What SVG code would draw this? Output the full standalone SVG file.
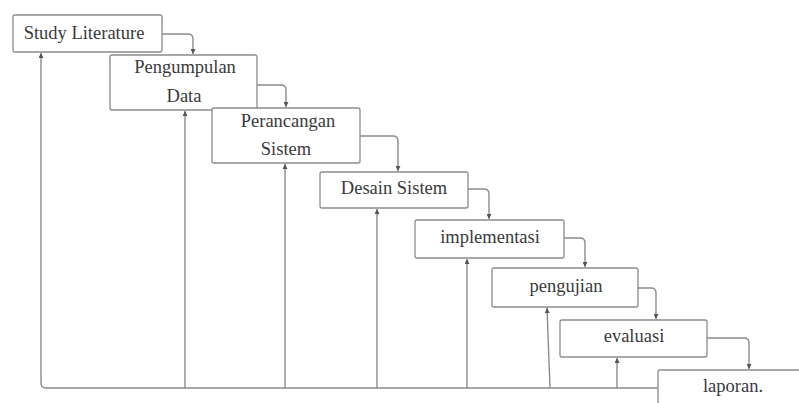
<svg xmlns="http://www.w3.org/2000/svg" width="799" height="403" viewBox="0 0 799 403">
<defs>
<marker id="ah" viewBox="0 0 10 10" refX="10" refY="5" markerWidth="5" markerHeight="5" orient="auto-start-reverse" markerUnits="userSpaceOnUse">
<path d="M0,0 L10,5 L0,10 Z" fill="#555"/>
</marker>
<style>
.box{fill:#fff;stroke:#8c8c8c;stroke-width:1.3}
.lbl{font-size:18.5px;fill:#3a3a3a;text-anchor:middle}
.c{fill:none;stroke:#8c8c8c;stroke-width:1.4}
</style>
</defs>
<rect width="799" height="403" fill="#fff"/>
<g id="connectors">
<path class="c" d="M162,34 H188 Q193,34 193,39 V54" marker-end="url(#ah)"/>
<path class="c" d="M257,85 H281 Q286,85 286,90 V107" marker-end="url(#ah)"/>
<path class="c" d="M360,136 H393 Q398,136 398,141 V171" marker-end="url(#ah)"/>
<path class="c" d="M468,189 H484 Q489,189 489,194 V219" marker-end="url(#ah)"/>
<path class="c" d="M564,238 H580 Q585,238 585,243 V267" marker-end="url(#ah)"/>
<path class="c" d="M638,288 H651 Q656,288 656,293 V319" marker-end="url(#ah)"/>
<path class="c" d="M707,338 H744 Q749,338 749,343 V369" marker-end="url(#ah)"/>
<path class="c" d="M658,388 H46 Q41,388 41,383 V53" marker-end="url(#ah)"/>
<path class="c" d="M185,388 V111" marker-end="url(#ah)"/>
<path class="c" d="M285,388 V164" marker-end="url(#ah)"/>
<path class="c" d="M377,388 V209" marker-end="url(#ah)"/>
<path class="c" d="M467,388 V259" marker-end="url(#ah)"/>
<path class="c" d="M550,388 L547,308" marker-end="url(#ah)"/>
<path class="c" d="M617,388 V358" marker-end="url(#ah)"/>
</g>
<g font-family="'Liberation Serif', 'Times New Roman', serif">
<g id="study-literature">
<rect class="box" x="13" y="15" width="149" height="37" rx="2"/>
<text class="lbl" x="84" y="39">Study Literature</text>
</g>
<g id="pengumpulan-data">
<rect class="box" x="110" y="55" width="147" height="55" rx="2"/>
<text class="lbl" x="185" y="73">Pengumpulan</text>
<text class="lbl" x="184" y="102">Data</text>
</g>
<g id="perancangan-sistem">
<rect class="box" x="212" y="108" width="148" height="55" rx="2"/>
<text class="lbl" x="288" y="127">Perancangan</text>
<text class="lbl" x="286" y="155">Sistem</text>
</g>
<g id="desain-sistem">
<rect class="box" x="320" y="172" width="148" height="36" rx="2"/>
<text class="lbl" x="394" y="194">Desain Sistem</text>
</g>
<g id="implementasi">
<rect class="box" x="415" y="220" width="149" height="38" rx="2"/>
<text class="lbl" x="490" y="243">implementasi</text>
</g>
<g id="pengujian">
<rect class="box" x="492" y="268" width="146" height="39" rx="2"/>
<text class="lbl" x="566" y="292">pengujian</text>
</g>
<g id="evaluasi">
<rect class="box" x="560" y="320" width="147" height="37" rx="2"/>
<text class="lbl" x="634" y="342">evaluasi</text>
</g>
<g id="laporan">
<rect class="box" x="658" y="370" width="150" height="45" rx="2"/>
<text class="lbl" x="733" y="392">laporan.</text>
</g>
</g>
</svg>
